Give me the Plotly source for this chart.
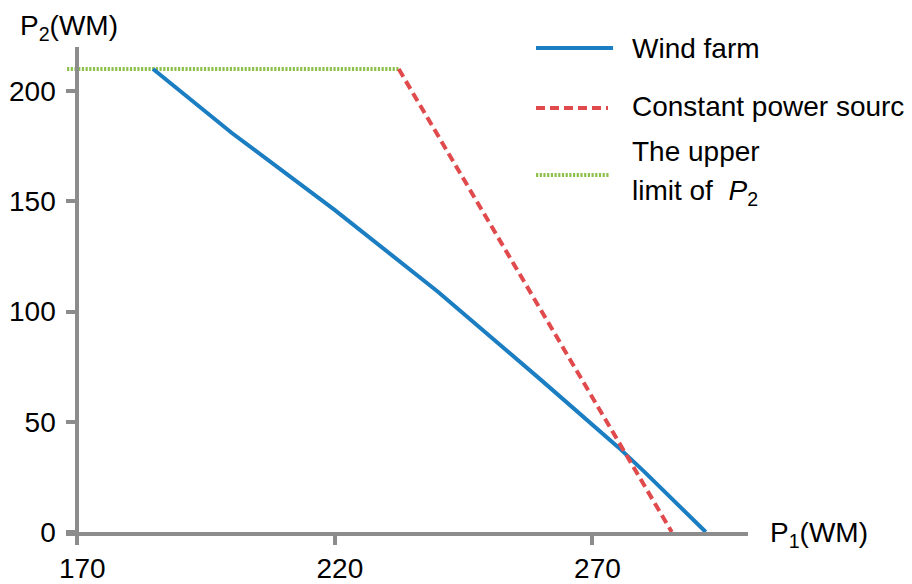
import plotly.graph_objects as go

# Wind farm operating boundary (P1 vs P2, WM)
wind_p1 = [184.7, 200, 220, 240, 260, 270, 275, 280, 292]
wind_p2 = [210, 181, 146, 109, 69, 49, 38.5, 27.5, 0]

# Constant power source boundary
const_p1 = [232.4, 285.4]
const_p2 = [210, 0]

# Upper limit of P2
limit_p1 = [168.0, 232.4]
limit_p2 = [210, 210]

x_ticks = [170, 220, 270]
y_ticks = [0, 50, 100, 150, 200]

legend_names = ["Wind farm", "Constant power sourc",
                "The upper<br>limit of&nbsp; <i>P</i><sub>2</sub>"]

BLUE = "#1b7dc2"
RED = "#e04a4c"
GREEN = "#8cc04b"
GREY = "#8c8c8c"
FONT = "Liberation Sans, Arial, sans-serif"
FS = 28

# plot-area geometry in pixels
W, H = 912, 584
L, R, T, B = 66, 164, 47, 52
PW, PH = W - L - R, H - T - B
X_RANGE = [167.8, 300.2]
Y_RANGE = [0, 220]


def px(x):
    return (x - L) / PW


def py(y):
    return (T + PH - y) / PH


fig = go.Figure()
fig.add_trace(go.Scatter(x=limit_p1, y=limit_p2, mode="lines",
                         line=dict(color=GREEN, width=4, dash="2.2px,1.5px"),
                         showlegend=False))
fig.add_trace(go.Scatter(x=wind_p1, y=wind_p2, mode="lines",
                         line=dict(color=BLUE, width=4), showlegend=False))
fig.add_trace(go.Scatter(x=const_p1, y=const_p2, mode="lines",
                         line=dict(color=RED, width=4, dash="9px,5px"),
                         showlegend=False))

# legend: sample lines + labels
samples = [
    (536, 613, 48, dict(color=BLUE, width=4)),
    (536, 608, 108, dict(color=RED, width=4, dash="9px,5px")),
    (536, 609, 175, dict(color=GREEN, width=4, dash="2.2px,1.5px")),
]
for x0, x1, yy, ln in samples:
    fig.add_shape(type="line", xref="paper", yref="paper",
                  x0=px(x0), x1=px(x1), y0=py(yy), y1=py(yy), line=ln)

label_font = dict(family=FONT, size=FS, color="#000000")
fig.add_annotation(text=legend_names[0], xref="paper", yref="paper",
                   x=px(630), y=py(48), xanchor="left", yanchor="middle",
                   showarrow=False, font=label_font)
fig.add_annotation(text=legend_names[1], xref="paper", yref="paper",
                   x=px(630), y=py(106), xanchor="left", yanchor="middle",
                   showarrow=False, font=label_font)
upper, lower = legend_names[2].split("<br>")
fig.add_annotation(text=upper, xref="paper", yref="paper",
                   x=px(630), y=py(151), xanchor="left", yanchor="middle",
                   showarrow=False, font=label_font)
fig.add_annotation(text=lower, xref="paper", yref="paper",
                   x=px(630), y=py(192), xanchor="left", yanchor="middle",
                   showarrow=False, font=label_font)

# axis titles
fig.add_annotation(text="P<sub>2</sub>(WM)", xref="paper", yref="paper",
                   x=px(18), y=py(28), xanchor="left", yanchor="middle",
                   showarrow=False, font=label_font)
fig.add_annotation(text="P<sub>1</sub>(WM)", xref="paper", yref="paper",
                   x=px(768), y=py(534), xanchor="left", yanchor="middle",
                   showarrow=False, font=label_font)

y_axis_pos = (170 - X_RANGE[0]) / (X_RANGE[1] - X_RANGE[0])

fig.update_layout(
    width=W, height=H,
    margin=dict(l=L, r=R, t=T, b=B, pad=0, autoexpand=False),
    paper_bgcolor="white", plot_bgcolor="white",
    font=dict(family=FONT, size=FS, color="#000000"),
    xaxis=dict(range=X_RANGE, tickvals=x_ticks, ticktext=[str(v) for v in x_ticks],
               automargin=False,
               showgrid=False, zeroline=False, showline=True,
               linecolor=GREY, linewidth=4, ticks="outside", ticklen=9,
               tickwidth=4, tickcolor=GREY, ticklabelstandoff=-1,
               ticklabelshift=5, tickfont=dict(family=FONT, size=FS)),
    yaxis=dict(range=Y_RANGE, tickvals=y_ticks, ticktext=[str(v) for v in y_ticks],
               anchor="free", position=y_axis_pos, automargin=False,
               showgrid=False, zeroline=False, showline=True,
               linecolor=GREY, linewidth=4, ticks="outside", ticklen=9,
               tickwidth=4, tickcolor=GREY, ticklabelstandoff=5,
               tickfont=dict(family=FONT, size=FS)),
    showlegend=False,
)

fig.write_html("out.html")
